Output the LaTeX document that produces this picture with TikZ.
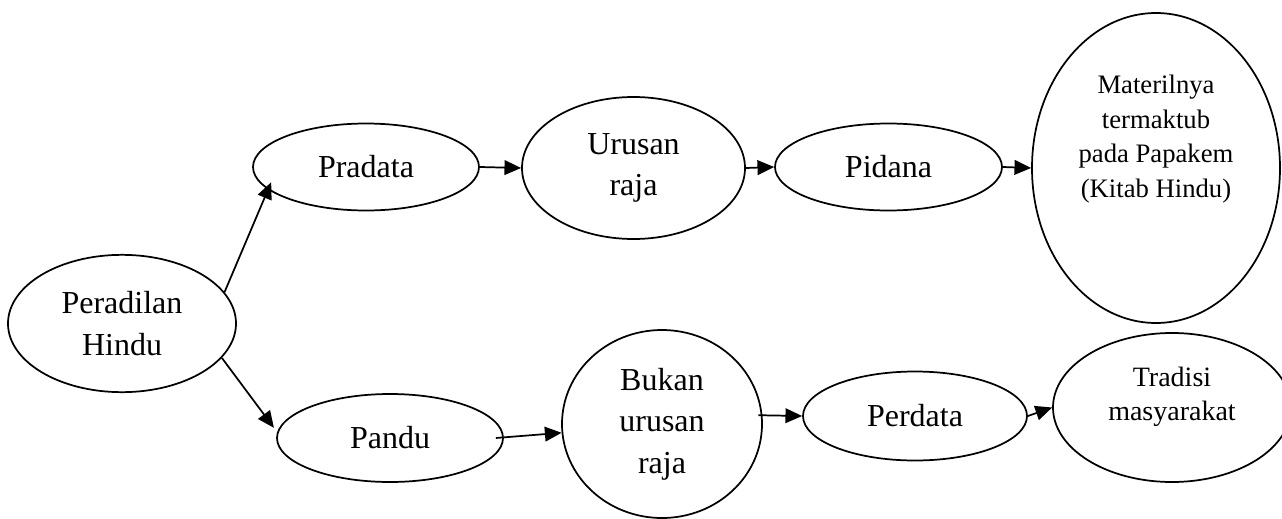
\documentclass[tikz,border=0pt]{standalone}
\usepackage{fontspec}
\setmainfont{Liberation Serif}
\usetikzlibrary{shapes.geometric,arrows.meta}
\newcommand{\liftup}[2]{\raisebox{#1}[0pt][0pt]{\begin{tabular}{@{}c@{}}#2\end{tabular}}}

\begin{document}
\begin{tikzpicture}[x=0.75pt,y=-0.75pt,line width=1.3pt,>={Triangle[length=12.5pt,width=11pt]},every node/.style={draw,ellipse,inner sep=0pt,align=center,font=\fontsize{24}{31}\selectfont}]
\useasboundingbox(0,0)rectangle(1282,518);
\node(PH)[minimum width=171pt,minimum height=103pt]at(122,323.5){Peradilan\\Hindu};
\node(PR)[minimum width=169.5pt,minimum height=65.25pt]at(366,167){Pradata};
\node(UR)[minimum width=167.25pt,minimum height=106.5pt]at(633.5,168){Urusan\\raja};
\node(PI)[minimum width=170.25pt,minimum height=65.25pt]at(888.5,167){Pidana};
\node(MT)[minimum width=186pt,minimum height=232.5pt,font=\fontsize{20}{26}\selectfont]at(1156,168){\liftup{17pt}{Materilnya\\termaktub\\pada Papakem\\(Kitab Hindu)}};
\node(PA)[minimum width=169.5pt,minimum height=66pt]at(390,438){Pandu};
\node(BU)[minimum width=150pt,minimum height=141pt]at(662,424){Bukan\\urusan\\raja};
\node(PE)[minimum width=168pt,minimum height=66.75pt]at(915,416){Perdata};
\node(TR)[minimum width=178.5pt,minimum height=111.75pt,font=\fontsize{21}{25.5}\selectfont]at(1172,407.5){\liftup{3pt}{Tradisi\\masyarakat}};
\draw[->,shorten >=-6pt](PH.17)--(PR.193);
\draw[->,shorten >=4pt](PH.-19)--(PA.177);
\draw[->](PR.east)--(UR.west);
\draw[->](UR.east)--(PI.west);
\draw[->](PI.east)--(MT.west);
\draw[->]([xshift=-6pt]PA.east)--(BU.185);
\draw[->]([xshift=-3pt]BU.5)--(PE.west);
\draw[->](PE.east)--(TR.west);
\end{tikzpicture}
\end{document}
